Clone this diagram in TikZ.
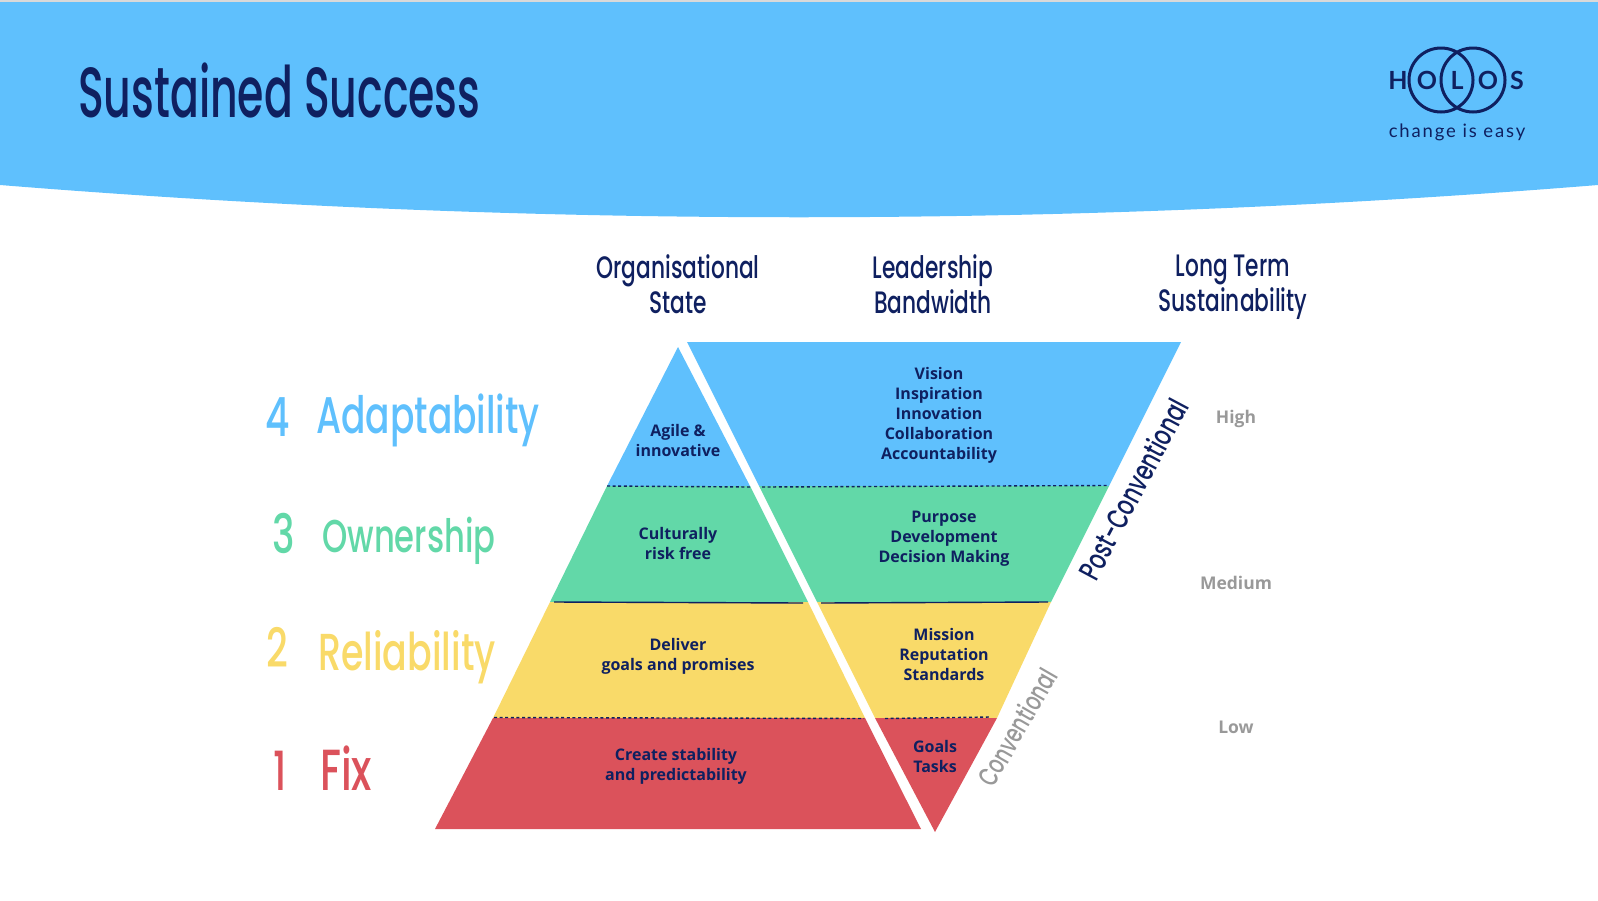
\documentclass[tikz,border=0pt]{standalone}
\usepackage{fontspec}
\setmainfont{Open Sans}
\newfontfamily\handfont[FakeStretch=0.7]{Poppins Medium}
\newfontfamily\titlefont[FakeStretch=0.6]{Poppins Medium}
\newfontfamily\logofont{Lato}
\definecolor{skyblue}{HTML}{5FC0FD}
\definecolor{mint}{HTML}{62D8A8}
\definecolor{sun}{HTML}{F9DA69}
\definecolor{brick}{HTML}{DB525B}
\definecolor{navy}{HTML}{0F2060}
\definecolor{softgray}{HTML}{999999}
\tikzset{
  bandtext/.style={text=navy, align=center, font=\fontsize{16}{20}\selectfont\bfseries, inner sep=0pt},
  scaletext/.style={text=softgray, font=\fontsize{17.5}{20}\selectfont\bfseries, inner sep=0pt},
  headtext/.style={text=navy, align=center, font=\fontsize{31}{34.5}\selectfont\handfont, inner sep=0pt},
  leveltext/.style={font=\fontsize{#1}{#1}\selectfont\handfont, inner sep=0pt},
  dotline/.style={navy, line width=1.4pt, dash pattern=on 3pt off 2.6pt},
  logotext/.style={text=navy, inner sep=0pt, font=\fontsize{25}{25}\selectfont\logofont\bfseries}
}
\begin{document}
\begin{tikzpicture}[x=1pt, y=-1pt]
  \useasboundingbox (0,0) rectangle (1598,900);
  % kepala
  \fill[gray!30] (0,0) rectangle (1598,2);
  \fill[skyblue] (0,2) -- (1598,2) -- (1598,185) .. controls (1065,228) and (533,228) .. (0,185) -- cycle;
  \node[anchor=west, text=navy, inner sep=0pt, font=\fontsize{71}{71}\selectfont\titlefont] (title) at (78,90) {Sustained Success};
  % logo
  \coordinate (ringa) at (1441,80);
  \coordinate (ringb) at (1473,80);
  \draw[navy, line width=3pt] (ringa) circle (32) (ringb) circle (32);
  \foreach \x/\t/\n in {1398/H/lh, 1427/O/lo, 1457/L/ll, 1488/O/lq, 1517/S/ls}{
    \node[logotext] (\n) at (\x,80) {\t};
  }
  \node[text=navy, inner sep=0pt, font=\fontsize{18.5}{20}\selectfont\logofont\addfontfeature{LetterSpace=10}] (tagline) at (1457,132) {change is easy};
  % judul kolom
  \node[headtext] (orgstate) at (678,284) {Organisational\\State};
  \node[headtext] (bandwidth) at (933,284) {Leadership\\Bandwidth};
  \node[headtext] (longterm) at (1233,287) {Long Term\\Sustainability};
  % piramida
  \fill[skyblue] (678,347) -- (750,486) -- (607,486) -- cycle;
  \fill[mint] (607,486) -- (750,486) -- (808,602) -- (550,602) -- cycle;
  \fill[sun] (550,602) -- (808,602) -- (865,718) -- (493,718) -- cycle;
  \fill[brick] (493,718) -- (865,718) -- (921,829) -- (435,829) -- cycle;
  % piramida terbalik
  \fill[skyblue] (687,342) -- (1181,342) -- (1109,486) -- (759,486) -- cycle;
  \fill[mint] (759,486) -- (1109,486) -- (1051,602) -- (817,602) -- cycle;
  \fill[sun] (817,602) -- (1051,602) -- (997,718) -- (875,718) -- cycle;
  \fill[brick] (875,718) -- (997,718) -- (935,832) -- cycle;
  % garis batas
  \draw[dotline] (607,486) coordinate (da) -- (750,487) coordinate (db);
  \draw[dotline] (762,487) coordinate (dc) -- (1107,485.5) coordinate (dd);
  \draw[navy, line width=1.4pt] (554,602) coordinate (sa) -- (803,603) coordinate (sb);
  \draw[navy, line width=1.4pt] (821,603) coordinate (sc) -- (1048,602) coordinate (sd);
  \draw[dotline] (494,717.5) coordinate (ea) -- (864,718.5) coordinate (eb);
  \draw[dotline] (885,718.5) coordinate (ec) -- (990,717) coordinate (ed);
  % teks pita
  \foreach \x/\y/\t/\n in {678/440.5/Agile \&\\innovative/agile, 678/543.5/Culturally\\risk free/risk,
      678/656.5/Deliver\\goals and promises/deliver, 676/766.5/Create stability\\and predictability/stability,
      939/415/Vision\\Inspiration\\Innovation\\Collaboration\\Accountability/vision,
      944/539/Purpose\\Development\\Decision Making/purpose, 944/654/Mission\\Reputation\\Standards/mission,
      935/756/Goals\\Tasks/goals}{
    \node[bandtext] (\n) at (\x,\y) {\t};
  }
  % tingkat
  \foreach \y/\t/\n in {418.5/High/high, 582.5/Medium/medium, 727/Low/low}{
    \node[scaletext] (\n) at (1236,\y) {\t};
  }
  \node[text=navy, rotate=62, inner sep=0pt, font=\fontsize{30}{30}\selectfont\handfont] (postconv) at (1133,489) {Post-Conventional};
  \node[text=softgray, rotate=60, inner sep=0pt, font=\fontsize{27.5}{27.5}\selectfont\handfont] (conv) at (1017,727) {Conventional};
  % label kiri
  \foreach \x/\y/\t/\c/\n in {278/417/4/skyblue/na, 284/533/3/mint/nb, 277/647/2/sun/nc, 280/771/1/brick/nd}{
    \node[leveltext=54, text=\c] (\n) at (\x,\y) {\t};
  }
  \node[leveltext=51.5, text=skyblue, anchor=west] (adapt) at (316,420) {Adaptability};
  \node[leveltext=46, text=mint, anchor=west] (own) at (322,541) {Ownership};
  \node[leveltext=52, text=sun, anchor=west] (reli) at (318,657) {Reliability};
  \node[leveltext=58, text=brick, anchor=west] (fix) at (320,768) {Fix};
\end{tikzpicture}
\end{document}
